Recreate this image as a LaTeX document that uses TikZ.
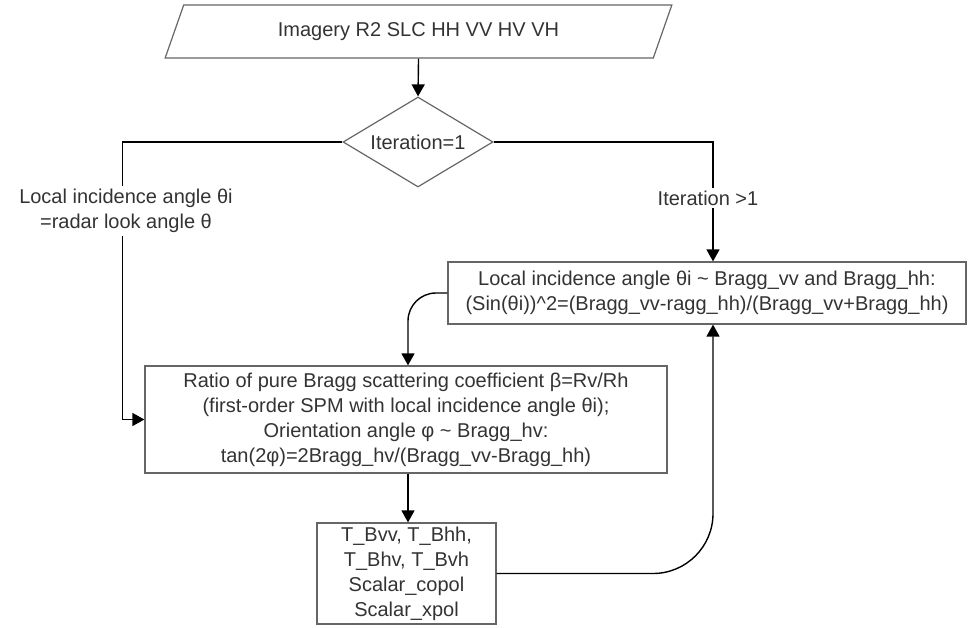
\documentclass[tikz,border=0pt]{standalone}
\usepackage{fontspec}
\setmainfont{Liberation Sans}
\usetikzlibrary{shapes.geometric,arrows.meta}

\begin{document}
\begin{tikzpicture}[x=1pt,y=-1pt,
    every node/.style={font=\fontsize{20}{25}\selectfont,text=black!80},
    box/.style={draw=black!60,line width=1.2pt,align=center,inner sep=2pt},
    flow/.style={draw=black,line width=1.4pt,-{Triangle[length=12pt,width=13pt]}},
    lbl/.style={fill=white,align=center,inner sep=3pt}]
  \useasboundingbox (0,0) rectangle (968,628);
  % blocks
  \node[box,trapezium,trapezium left angle=63,trapezium right angle=117,
        trapezium stretches=true,minimum width=509pt,minimum height=53pt]
        (imagery) at (418.5,31.5) {Imagery R2 SLC HH VV HV VH};
  \node[box,diamond,aspect=1.67,minimum width=150pt,minimum height=90pt,inner sep=0pt]
        (iter) at (418,142) {Iteration=1};
  \node[box,minimum width=518pt,minimum height=62pt] (local) at (707,293)
        {Local incidence angle θi \textasciitilde{} Bragg\_vv and Bragg\_hh:\\
         (Sin(θi))\textasciicircum2=(Bragg\_vv-ragg\_hh)/(Bragg\_vv+Bragg\_hh)};
  \node[box,minimum width=522pt,minimum height=107pt] (ratio) at (406,419.5)
        {Ratio of pure Bragg scattering coefficient β=Rv/Rh\\
         (first-order SPM with local incidence angle θi);\\
         Orientation angle φ \textasciitilde{} Bragg\_hv:\\
         tan(2φ)=2Bragg\_hv/(Bragg\_vv-Bragg\_hh)};
  \node[box,minimum width=179pt,minimum height=101pt] (tvals) at (406.5,573.5)
        {T\_Bvv, T\_Bhh,\\T\_Bhv, T\_Bvh\\Scalar\_copol\\Scalar\_xpol};
  % connectors
  \draw[flow] (imagery.south) -- (iter.north);
  \draw[flow] (iter.west) -| ([xshift=-22pt]ratio.west) -- (ratio.west);
  \draw[flow] (iter.east) -| ([xshift=6pt]local.north);
  \draw[flow,rounded corners=28pt] (local.west) -| ([xshift=2pt]ratio.north);
  \draw[flow] ([xshift=2pt]ratio.south) -- ([xshift=1.5pt]tvals.north);
  \draw[flow,rounded corners=60pt] (tvals.east) -| ([xshift=6pt]local.south);
  % labels on the lines
  \node[lbl] (firstlbl) at (126,211) {Local incidence angle θi\\=radar look angle θ};
  \node[lbl] (nextlbl) at (708,198) {Iteration >1};
\end{tikzpicture}
\end{document}
